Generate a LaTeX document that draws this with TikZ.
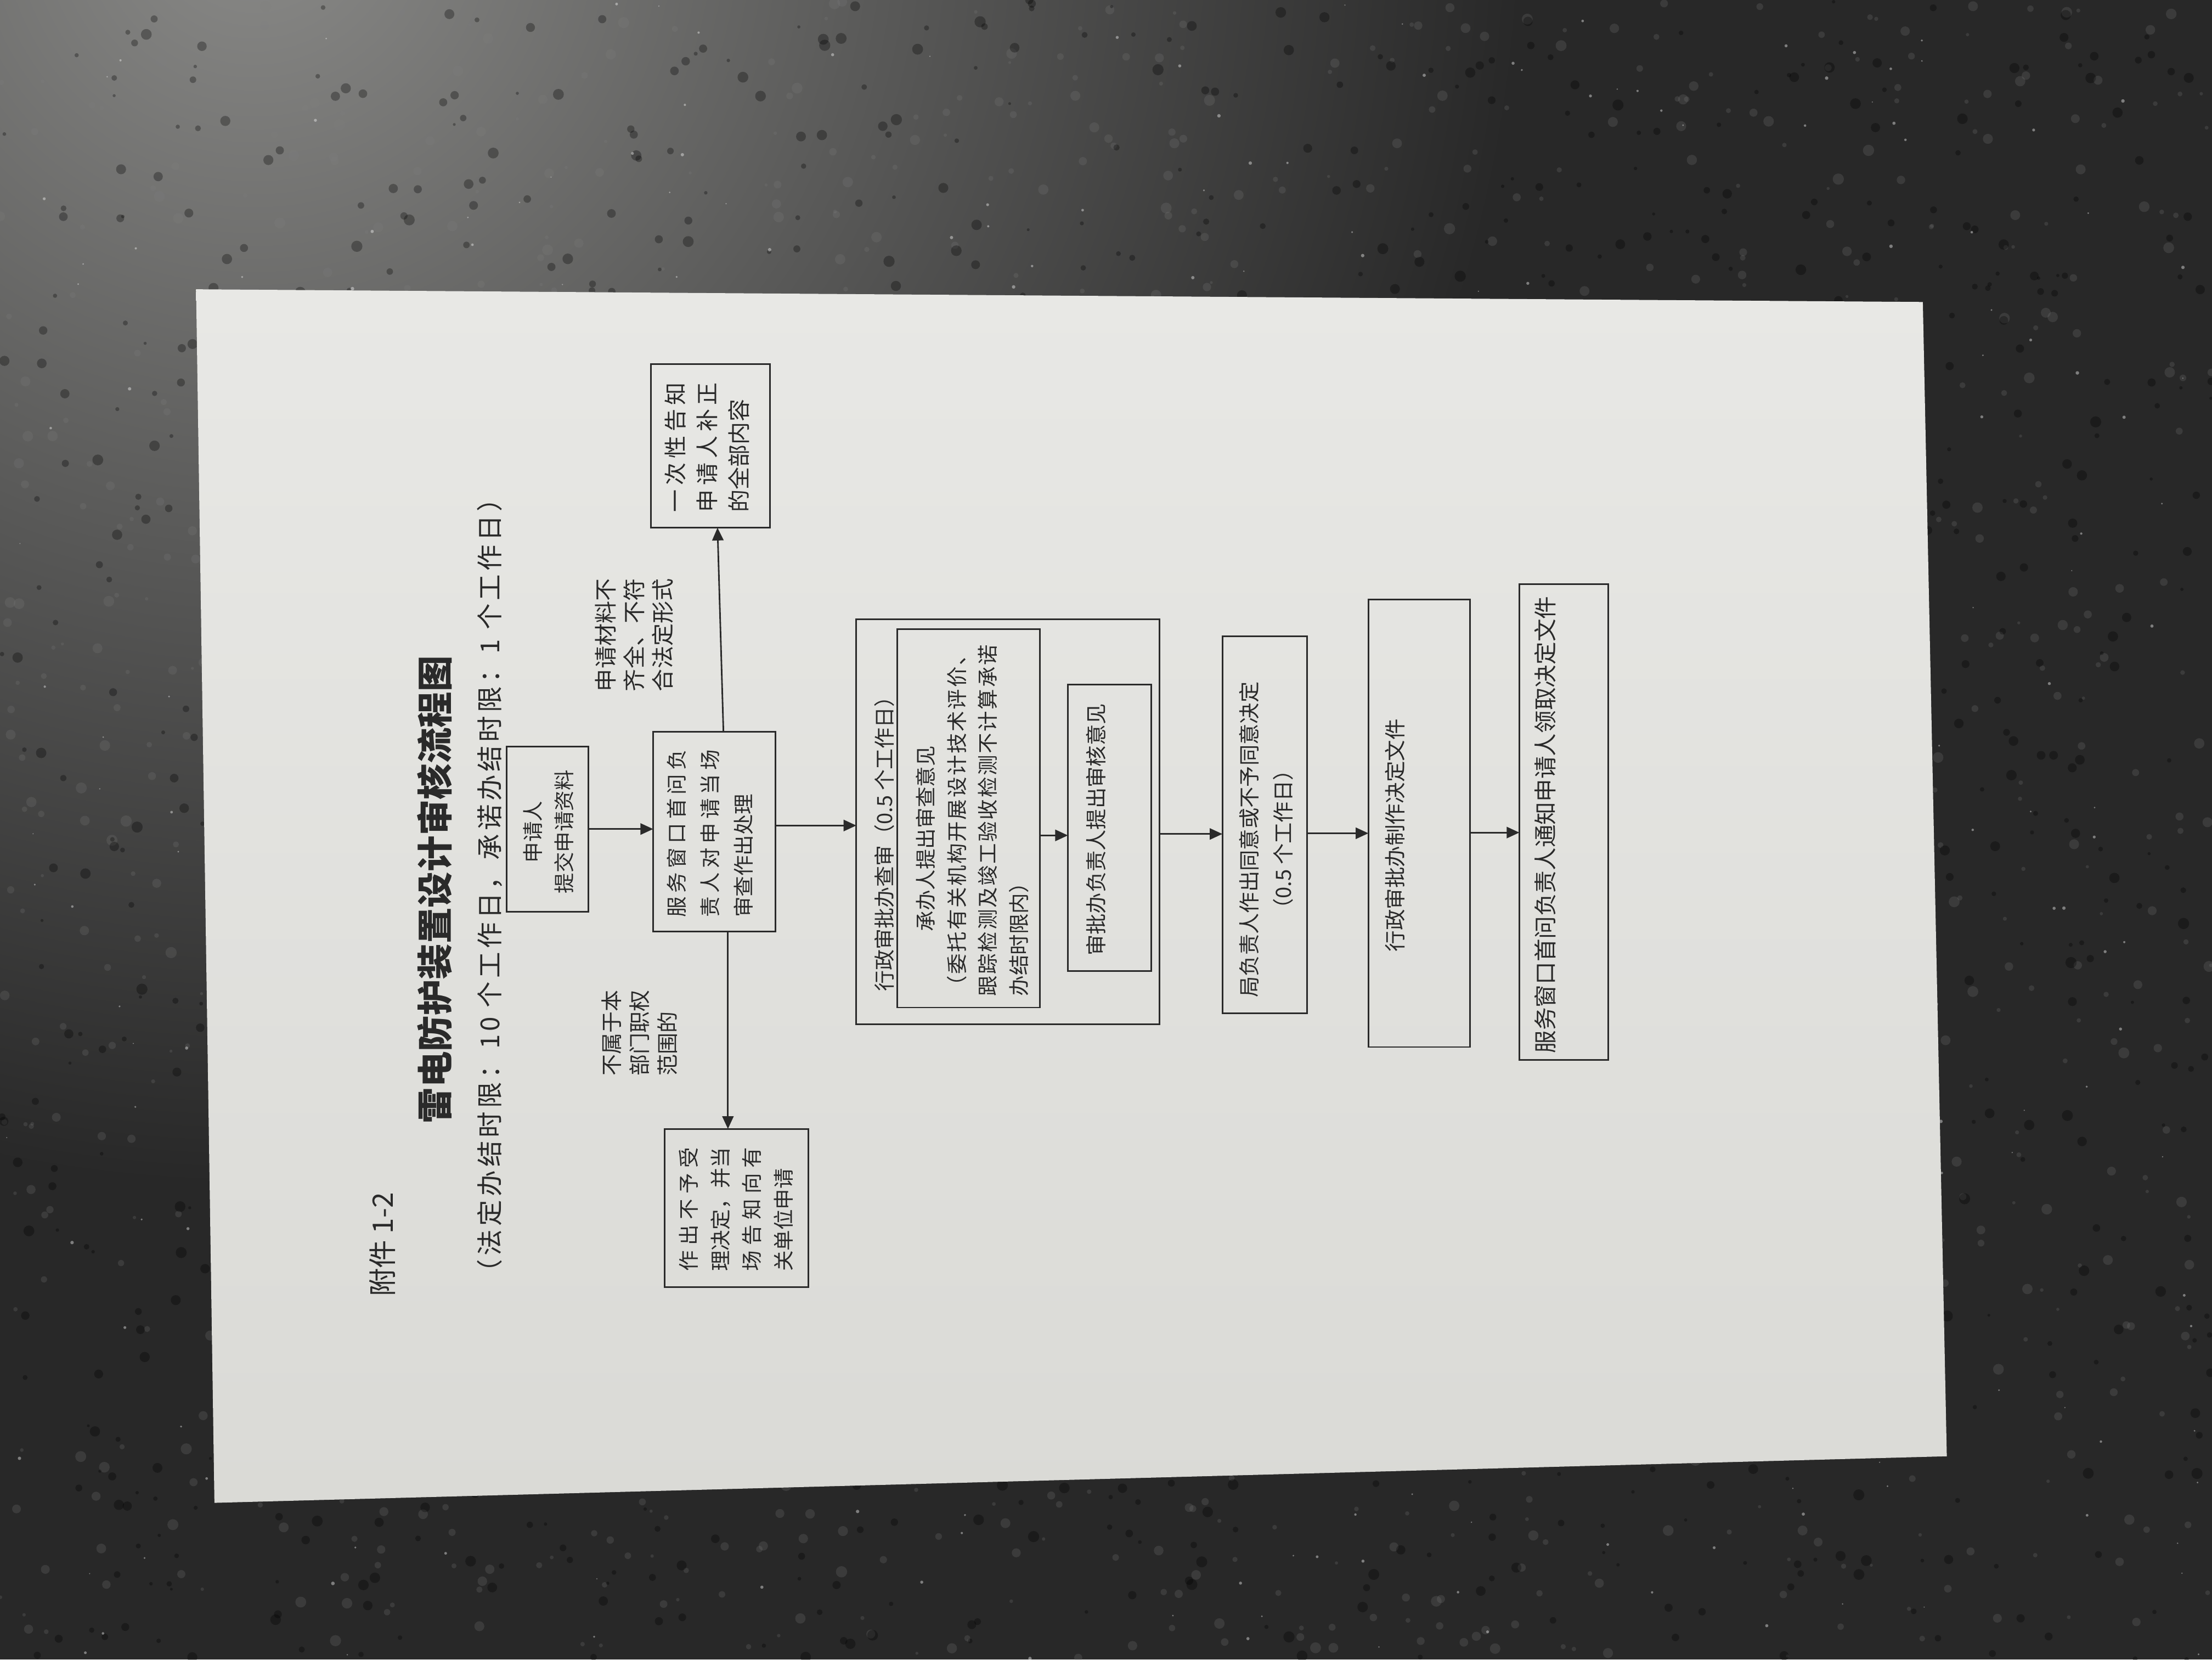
\documentclass[tikz,border=0pt]{standalone}
\usepackage{fontspec}
\setmainfont{Noto Sans CJK SC}
\usetikzlibrary{arrows.meta,calc}
\definecolor{stone}{HTML}{282828}
\definecolor{stonelight}{HTML}{8A8A88}
\definecolor{paperT}{HTML}{E8E8E5}
\definecolor{paperB}{HTML}{DADAD6}
\definecolor{ink}{HTML}{2A2A2A}
\newcommand{\fsz}[2]{\fontsize{#1}{#2}\selectfont}
\begin{document}
\begin{tikzpicture}[x=1pt,y=-1pt,
  box/.style={draw=ink, line width=1.1pt, inner sep=0pt, outer sep=0pt},
  txt/.style={rotate=90, inner sep=0pt, text=ink},
  arr/.style={draw=ink, line width=1.1pt, -{Triangle[length=9pt,width=8pt]}}]
\useasboundingbox (0,0) rectangle (1568,1176);
% ---------- granite background ----------
\begin{scope}
\clip (0,0) rectangle (1568,1176);
\fill[stone] (0,0) rectangle (1568,1176);
\shade[inner color=stonelight, outer color=stone] (180,-60) circle (900);
\pgfmathsetseed{7}
\foreach \i in {1,...,1400}{
  \pgfmathsetmacro{\px}{rnd*1568}
  \pgfmathsetmacro{\py}{rnd*1176}
  \pgfmathsetmacro{\pr}{1+rnd*3}
  \fill[gray, opacity=0.22] (\px,\py) circle (\pr);
}
\foreach \i in {1,...,1400}{
  \pgfmathsetmacro{\px}{rnd*1568}
  \pgfmathsetmacro{\py}{rnd*1176}
  \pgfmathsetmacro{\pr}{1+rnd*3}
  \fill[black, opacity=0.3] (\px,\py) circle (\pr);
}
\foreach \i in {1,...,400}{
  \pgfmathsetmacro{\px}{rnd*1568}
  \pgfmathsetmacro{\py}{rnd*1176}
  \pgfmathsetmacro{\pr}{0.4+rnd*0.9}
  \fill[white, opacity=0.4] (\px,\py) circle (\pr);
}
\end{scope}
% ---------- paper ----------
\shade[top color=paperT, bottom color=paperB] (139,205) -- (1363,214) -- (1380,1032) -- (152,1065) -- cycle;
% ---------- headings ----------
\node[txt, font=\fsz{20}{24}] (att) at (271,882) {附件 1-2};
\node[txt, font=\bfseries\fsz{25.5}{30}] (title) at (308,630.5) {雷电防护装置设计审核流程图};
\node[txt, font=\fsz{18.5}{22}\addfontfeatures{LetterSpace=13}] (sub) at (347,627.5) {（法定办结时限：10 个工作日，承诺办结时限：1 个工作日）};
% ---------- boxes ----------
\node[box, minimum width=58pt, minimum height=117pt] (app) at (388,587.5) {};
\node[txt, align=center, font=\fsz{14.6}{22.4}] (appt) at (388.8,589.5) {申请人\\提交申请资料};

\node[box, minimum width=86.6pt, minimum height=141.5pt] (svc) at (506.3,589.3) {};
\node[txt, align=left, font=\fsz{14.6}{23.7}] (svct) at (503.3,590.6)
 {\makebox[119pt][s]{服\hfill 务\hfill 窗\hfill 口\hfill 首\hfill 问\hfill 负}\\
  \makebox[119pt][s]{责\hfill 人\hfill 对\hfill 申\hfill 请\hfill 当\hfill 场}\\
  审查作出处理};

\node[box, minimum width=84.2pt, minimum height=116pt] (notify) at (503.6,316) {};
\node[txt, align=left, font=\fsz{16}{22.5}] (notifyt) at (501.3,317)
 {\makebox[92pt][s]{一\hfill 次\hfill 性\hfill 告\hfill 知}\\
  \makebox[92pt][s]{申\hfill 请\hfill 人\hfill 补\hfill 正}\\
  的全部内容};

\node[txt, align=left, font=\fsz{16}{20.3}] (lab1) at (449.5,450) {申请材料不\\齐全、不符\\合法定形式};

\node[box, minimum width=102pt, minimum height=112pt] (reject) at (522,856) {};
\node[txt, align=left, font=\fsz{14.6}{22.4}] (rejectt) at (521.7,857)
 {\makebox[88pt][s]{作\hfill 出\hfill 不\hfill 予\hfill 受}\\
  \makebox[88pt][s]{理\hfill 决\hfill 定\hfill ，\hfill 并\hfill 当}\\
  \makebox[88pt][s]{场\hfill 告\hfill 知\hfill 向\hfill 有}\\
  关单位申请};

\node[txt, align=left, font=\fsz{15.2}{20}] (lab2) at (453.3,732) {不属于本\\部门职权\\范围的};

\node[box, minimum width=215pt, minimum height=287pt] (big) at (714.5,582.5) {};
\node[txt, font=\fsz{14.8}{18}] (bigt) at (627,594.5) {行政审批办查审（0.5 个工作日）};
\node[box, minimum width=101pt, minimum height=268pt] (inner1) at (686.5,580) {};
\node[txt, align=left, font=\fsz{14.6}{22}] (inner1t) at (689.25,581.5)
 {\makebox[249pt][l]{\hspace{46pt}承办人提出审查意见}\\
  \makebox[249pt][s]{（\hfill 委\hfill 托\hfill 有\hfill 关\hfill 机\hfill 构\hfill 开\hfill 展\hfill 设\hfill 计\hfill 技\hfill 术\hfill 评\hfill 价\hfill 、}\\
  \makebox[249pt][s]{跟\hfill 踪\hfill 检\hfill 测\hfill 及\hfill 竣\hfill 工\hfill 验\hfill 收\hfill 检\hfill 测\hfill 不\hfill 计\hfill 算\hfill 承\hfill 诺}\\
  办结时限内）};
\node[box, minimum width=59pt, minimum height=203pt] (inner2) at (786.5,586.5) {};
\node[txt, font=\fsz{14.9}{18}] (inner2t) at (777,588) {审批办负责人提出审核意见};

\node[box, minimum width=60pt, minimum height=267pt] (dean) at (896.5,584.5) {};
\node[txt, align=center, font=\fsz{14.9}{24}] (deant) at (897.5,595) {局负责人作出同意或不予同意决定\\（0.5 个工作日）};

\node[box, minimum width=72pt, minimum height=317pt] (make) at (1006,583.5) {};
\node[txt, font=\fsz{15}{18}] (maket) at (989,592) {行政审批办制作决定文件};

\node[box, minimum width=63pt, minimum height=337pt] (notice) at (1108.5,582.5) {};
\node[txt, font=\fsz{16.2}{20}] (noticet) at (1095.5,584.5) {服务窗口首问负责人通知申请人领取决定文件};
% ---------- connectors ----------
\draw[arr] (app.east) -- (app.east -| svc.west);
\draw[arr] ([xshift=6.5pt]svc.north) -- ([xshift=5pt]notify.south);
\draw[arr] ([xshift=9.7pt]svc.south) -- ([xshift=-6pt]reject.north);
\coordinate (s1) at ([yshift=4.3pt]svc.east);
\draw[arr] (s1) -- (s1 -| big.west);
\coordinate (s2) at ([yshift=-12pt]inner1.east);
\draw[arr] (s2) -- (s2 -| inner2.west);
\coordinate (s3) at ([yshift=-8.5pt]big.east);
\draw[arr] (s3) -- (s3 -| dean.west);
\coordinate (s4) at ([yshift=-6pt]dean.east);
\draw[arr] (s4) -- (s4 -| make.west);
\coordinate (s5) at ([yshift=-6.5pt]make.east);
\draw[arr] (s5) -- (s5 -| notice.west);
\end{tikzpicture}
\end{document}
